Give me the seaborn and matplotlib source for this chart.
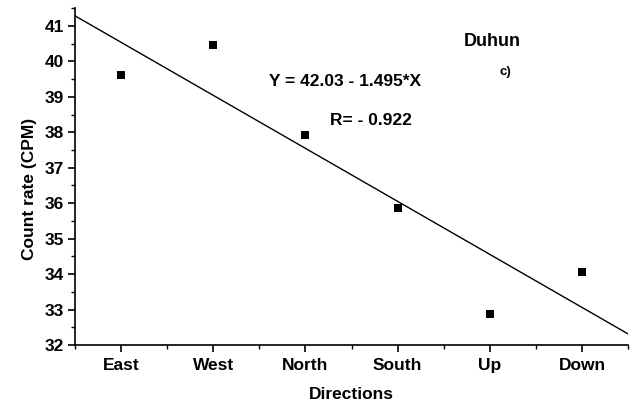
import numpy as np
import pandas as pd
import matplotlib
matplotlib.use("Agg")
import matplotlib.pyplot as plt
import seaborn as sns
from matplotlib.ticker import MultipleLocator

directions = ["East", "West", "North", "South", "Up", "Down"]
count_rate = [39.62, 40.46, 37.92, 35.86, 32.87, 34.06]
intercept = 42.03
slope = -1.495
r_value = -0.922
site = "Duhun"

sns.set_theme(style="ticks")
plt.rcParams["font.family"] = ["Liberation Sans", "DejaVu Sans"]
plt.rcParams["font.weight"] = "bold"
plt.rcParams["text.color"] = "black"
plt.rcParams["axes.labelcolor"] = "black"
plt.rcParams["xtick.color"] = "black"
plt.rcParams["ytick.color"] = "black"

fig = plt.figure(figsize=(6.41, 4.05), dpi=100)
ax = fig.add_axes([0.117, 0.148, 0.863, 0.832])

pos = np.arange(1, len(directions) + 1)
df = pd.DataFrame({"pos": pos, "rate": count_rate})
sns.scatterplot(data=df, x="pos", y="rate", marker="s", s=36, color="black",
                edgecolor="black", linewidth=0, ax=ax, zorder=3)

xfit = np.array([0.5, len(directions) + 0.5])
fit = pd.DataFrame({"x": xfit, "y": intercept + slope * xfit})
sns.lineplot(data=fit, x="x", y="y", color="black", linewidth=1.0, ax=ax)

ax.set_xlim(0.5, len(directions) + 0.5)
ax.set_ylim(32, 41.5)
ax.set_xticks(pos)
ax.set_xticklabels(directions)
ax.set_xticks(np.arange(0.5, len(directions) + 1, 1.0), minor=True)
ax.yaxis.set_major_locator(MultipleLocator(1))
ax.yaxis.set_minor_locator(MultipleLocator(0.5))

for s in ["top", "right"]:
    ax.spines[s].set_visible(False)
for s in ["left", "bottom"]:
    ax.spines[s].set_linewidth(1.2)
    ax.spines[s].set_color("black")

ax.tick_params(axis="both", which="major", direction="out", length=5, width=1.2,
               labelsize=12.5, colors="black")
ax.tick_params(axis="both", which="minor", direction="out", length=3, width=1.0,
               colors="black")
ax.tick_params(axis="x", pad=4)
ax.tick_params(axis="y", pad=3)
for lab in ax.get_xticklabels() + ax.get_yticklabels():
    lab.set_fontweight("bold")

ax.set_xlabel("Directions", fontsize=12.5, fontweight="bold")
ax.set_ylabel("Count rate (CPM)", fontsize=12.5, fontweight="bold")
ax.xaxis.set_label_coords(0.5, -0.125)
ax.yaxis.set_label_coords(-0.069, 0.463)

ax.text(3.43, 39.42, f"Y = {intercept:.2f} - {abs(slope):.3f}*X", fontsize=12.5,
        fontweight="bold", ha="center", va="center")
ax.text(3.71, 38.32, f"R= - {abs(r_value):.3f}", fontsize=12.5,
        fontweight="bold", ha="center", va="center")
ax.text(5.03, 40.55, site, fontsize=13, fontweight="bold", ha="center", va="center")
ax.text(5.17, 39.70, "c)", fontsize=9.5, fontweight="bold", ha="center", va="center")

fig.savefig("out.png", dpi=100, facecolor="white")
